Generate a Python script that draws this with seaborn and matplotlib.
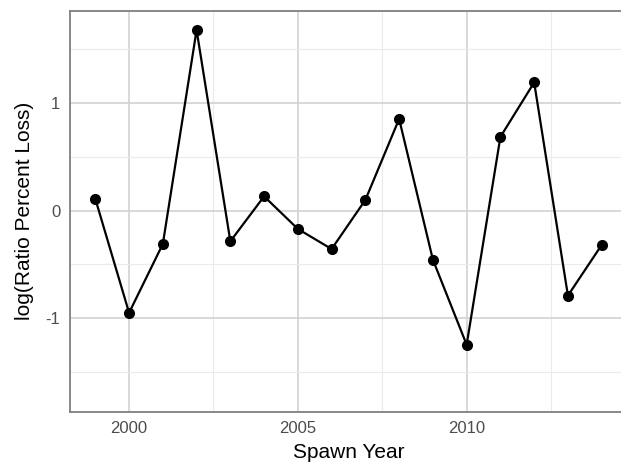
import numpy as np
import pandas as pd
import seaborn as sns
import matplotlib.pyplot as plt
from matplotlib.ticker import MultipleLocator

# Данные
years = [1999, 2000, 2001, 2002, 2003, 2004, 2005, 2006,
         2007, 2008, 2009, 2010, 2011, 2012, 2013, 2014]
log_ratio = [0.11, -0.95, -0.31, 1.68, -0.285, 0.133, -0.17, -0.357,
             0.10, 0.853, -0.456, -1.247, 0.686, 1.193, -0.79, -0.319]

df = pd.DataFrame({'year': years, 'value': log_ratio})

sns.set_style('white')
plt.rcParams['font.family'] = ['Liberation Sans', 'DejaVu Sans']

fig = plt.figure(figsize=(6.21, 4.66), dpi=100)
# правая граница панели обрезана, как в оригинале
ax = fig.add_axes([70 / 621, 1 - 411.7 / 466, (627 - 70) / 621, (411.7 - 10.7) / 466])

sns.lineplot(x='year', y='value', data=df, ax=ax, color='black', linewidth=1.6,
             marker='o', markersize=8, markeredgewidth=0, zorder=3)

ax.set_xlim(1998.25, 2014.75)
ax.set_ylim(-1.87, 1.86)
ax.xaxis.set_major_locator(MultipleLocator(5))
ax.xaxis.set_minor_locator(MultipleLocator(2.5))
ax.yaxis.set_major_locator(MultipleLocator(1))
ax.yaxis.set_minor_locator(MultipleLocator(0.5))
ax.set_yticks([-1, 0, 1])
ax.set_yticklabels(['-1', '0', '1'])

ax.grid(which='major', color='#d2d2d2', linewidth=1.2)
ax.grid(which='minor', color='#ebebeb', linewidth=0.8)
ax.set_axisbelow(True)

for s in ax.spines.values():
    s.set_color('#7f7f7f')
    s.set_linewidth(1.3)
ax.spines['right'].set_visible(False)

ax.tick_params(which='major', length=4, width=1, color='#7f7f7f',
               labelsize=12, labelcolor='#4d4d4d', pad=3)
ax.tick_params(which='minor', length=0)

ax.set_xlabel('Spawn Year', fontsize=15, color='black', labelpad=5)
ax.set_ylabel('log(Ratio Percent Loss)', fontsize=15, color='black', labelpad=8)

fig.savefig('out.png', dpi=100)
